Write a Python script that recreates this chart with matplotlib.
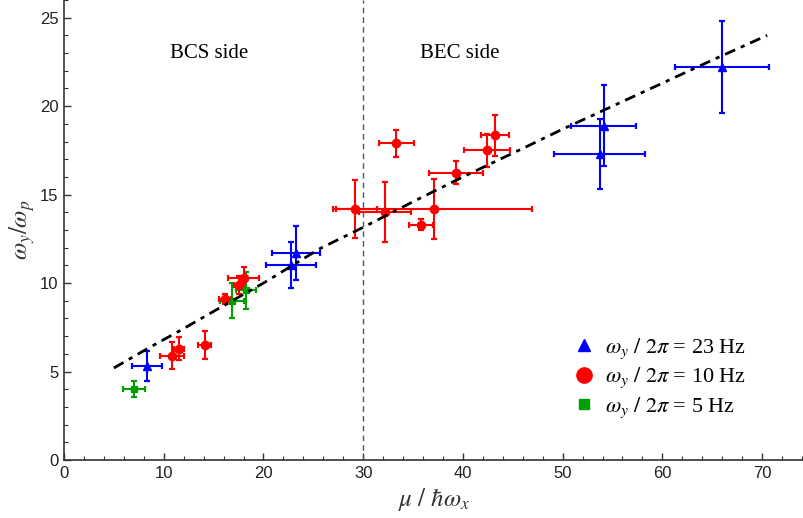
import matplotlib
matplotlib.use("Agg")
import matplotlib.pyplot as plt
from matplotlib.lines import Line2D

plt.rcParams['mathtext.fontset'] = 'stix'
plt.rcParams['font.family'] = ['Liberation Sans', 'DejaVu Sans']

# 23 Hz (blue triangles)
b_x = [8.3, 22.8, 23.3, 54.1, 53.7, 66.0]
b_y = [5.3, 11.0, 11.7, 18.9, 17.3, 22.2]
b_xerr = [1.5, 2.5, 2.4, 3.3, 4.6, 4.7]
b_yerr = [0.85, 1.3, 1.5, 2.3, 2.0, 2.6]

# 10 Hz (red circles)
r_x = [10.8, 11.5, 14.1, 17.5, 18.0, 16.1, 33.3, 29.2, 32.2, 37.1, 35.8, 39.3, 42.4, 43.2]
r_y = [5.9, 6.3, 6.5, 9.9, 10.3, 9.1, 17.9, 14.2, 14.0, 14.2, 13.3, 16.25, 17.5, 18.35]
r_xerr = [1.2, 0.5, 0.67, 0.5, 1.6, 0.6, 1.75, 2.2, 2.6, 9.8, 1.2, 2.7, 2.3, 1.4]
r_yerr = [0.75, 0.65, 0.8, 0.5, 0.6, 0.3, 0.75, 1.65, 1.7, 1.7, 0.3, 0.65, 0.95, 1.15]

# 5 Hz (green squares)
g_x = [7.05, 16.8, 18.25]
g_y = [4.03, 9.0, 9.6]
g_xerr = [1.1, 1.2, 1.0]
g_yerr = [0.45, 1.0, 1.05]

# theory curve
t_x = [5.0, 8.6, 11.6, 15.0, 20.0, 25.7, 30.0, 35.0, 40.0, 46.7, 50.0, 55.0, 60.0, 65.0, 70.5]
t_y = [5.2, 6.37, 7.3, 8.4, 10.0, 11.96, 13.15, 14.6, 16.0, 17.8, 18.7, 20.0, 21.3, 22.6, 24.0]

labels = [r'$\omega_y\ /\ 2\pi$ = 23 Hz', r'$\omega_y\ /\ 2\pi$ = 10 Hz', r'$\omega_y\ /\ 2\pi$ = 5 Hz']
blue, red, green = '#0000ff', '#ff0000', '#00a000'

fig = plt.figure(figsize=(8.04, 5.18), dpi=100)
ax = fig.add_axes([64/804, 58/518, 740/804, 460/518])

ax.axvline(30, color='#555555', lw=1.0, dashes=(4, 3))
ax.plot(t_x, t_y, color='black', lw=2.0, dashes=(4, 2.2, 1.5, 2.2), zorder=5)

ek = dict(elinewidth=1.5, capsize=2.5, capthick=1.6, ls='none')
ax.errorbar(g_x, g_y, xerr=g_xerr, yerr=g_yerr, color=green, marker='s', ms=5, **ek)
ax.errorbar(r_x, r_y, xerr=r_xerr, yerr=r_yerr, color=red, marker='o', ms=6, **ek)
ax.errorbar(b_x, b_y, xerr=b_xerr, yerr=b_yerr, color=blue, marker='^', ms=6, **ek)

ax.set_xlim(0, 74.2)
ax.set_ylim(0, 26.0)
ax.set_xticks([0, 10, 20, 30, 40, 50, 60, 70])
ax.set_yticks([0, 5, 10, 15, 20, 25])
ax.set_xticks(range(0, 75, 2), minor=True)
ax.set_yticks(range(0, 27, 1), minor=True)
ax.tick_params(direction='in', which='major', length=5, width=1, labelsize=12, colors='#333333', labelcolor='#222222', pad=4)
ax.tick_params(direction='in', which='minor', length=3, width=0.8, colors='#333333')
for s in ['top', 'right']:
    ax.spines[s].set_visible(False)
for s in ['left', 'bottom']:
    ax.spines[s].set_color('#333333')
    ax.spines[s].set_linewidth(1.2)

ax.set_xlabel(r'$\mu\ /\ \hbar\omega_x$', fontsize=18, color='#333333', labelpad=4)
ax.set_ylabel(r'$\omega_y/\omega_p$', fontsize=18, color='#333333', labelpad=2)

ax.text(14.6, 23.0, 'BCS side', fontsize=15, family='Liberation Serif', ha='center', va='center')
ax.text(39.7, 23.0, 'BEC side', fontsize=15, family='Liberation Serif', ha='center', va='center')

handles = [Line2D([], [], color=blue, marker='^', ms=9, ls='none'),
           Line2D([], [], color=red, marker='o', ms=11, ls='none'),
           Line2D([], [], color=green, marker='s', ms=7, ls='none')]
leg = ax.legend(handles, labels, loc='center left', bbox_to_anchor=(0.688, 0.178), frameon=False,
                prop={'family': 'Liberation Serif', 'size': 16}, handletextpad=0.45, labelspacing=0.24,
                handlelength=1.0, borderpad=0, borderaxespad=0)

fig.savefig('out.png', dpi=100)
